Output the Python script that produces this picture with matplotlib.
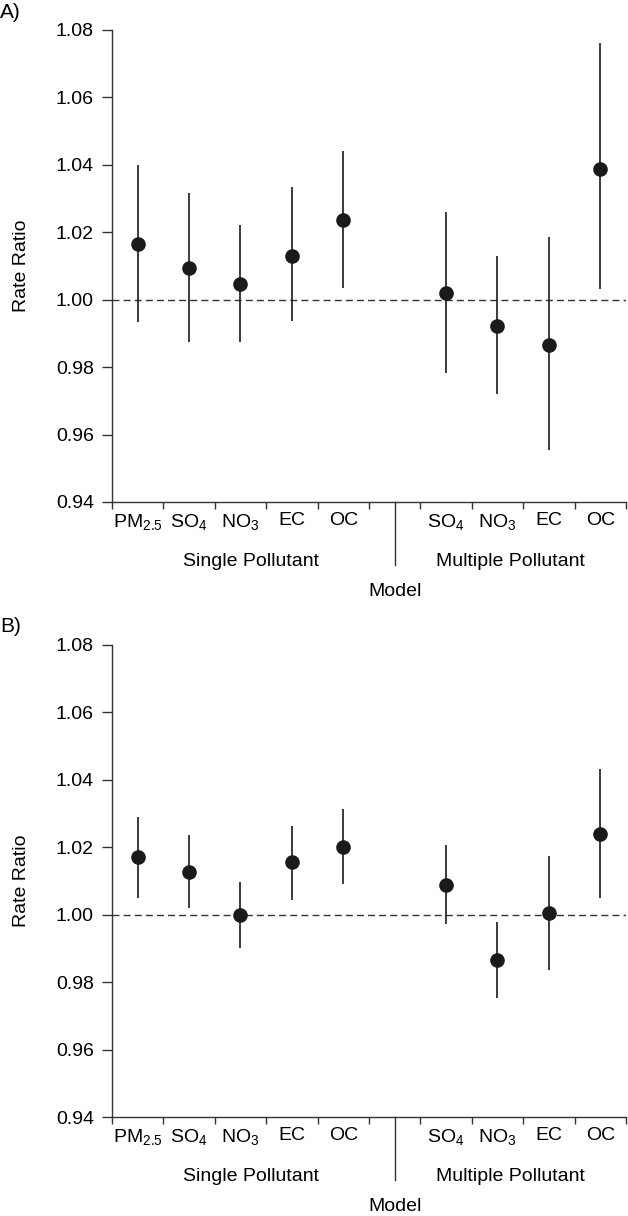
import matplotlib
matplotlib.use("Agg")
import matplotlib.pyplot as plt
import numpy as np

plt.rcParams.update({
    "font.family": ["Liberation Sans", "DejaVu Sans"],
    "font.size": 14,
    "mathtext.default": "regular",
})

# category labels (slot 5 is the gap between the two model groups)
pollutants = ["PM$_{2.5}$", "SO$_4$", "NO$_3$", "EC", "OC",
              "SO$_4$", "NO$_3$", "EC", "OC"]
slots = [0, 1, 2, 3, 4, 6, 7, 8, 9]
groups = ["Single Pollutant", "Multiple Pollutant"]

# panel A
a_est = [1.0164, 1.0093, 1.0047, 1.0130, 1.0237, 1.0020, 0.9923, 0.9866, 1.0388]
a_low = [0.9933, 0.9874, 0.9873, 0.9936, 1.0035, 0.9782, 0.9720, 0.9554, 1.0032]
a_up = [1.0400, 1.0316, 1.0222, 1.0334, 1.0442, 1.0261, 1.0128, 1.0187, 1.0760]

# panel B
b_est = [1.0170, 1.0128, 1.0000, 1.0155, 1.0200, 1.0089, 0.9865, 1.0005, 1.0238]
b_low = [1.0049, 1.0021, 0.9901, 1.0045, 1.0090, 0.9973, 0.9752, 0.9835, 1.0049]
b_up = [1.0291, 1.0237, 1.0097, 1.0263, 1.0313, 1.0206, 0.9977, 1.0175, 1.0432]

INK = "#1a1a1a"

fig = plt.figure(figsize=(6.28, 12.16), dpi=100)


def panel(rect, est, low, up, tag, tag_y):
    ax = fig.add_axes(rect)
    x = np.array(slots) + 0.5
    est = np.array(est)
    ax.axhline(1.0, color="#333333", lw=1.0, ls=(0, (5, 3)), zorder=1)
    ax.vlines(x, low, up, color=INK, lw=1.2, zorder=2)
    ax.plot(x, est, "o", color=INK, ms=9.5, zorder=3)

    ax.set_xlim(0, 10)
    ax.set_ylim(0.94, 1.08)
    ax.set_yticks(np.arange(0.94, 1.0801, 0.02))
    ax.set_yticklabels([f"{v:.2f}" for v in np.arange(0.94, 1.0801, 0.02)])
    ax.set_xticks(np.arange(0, 11))
    ax.set_xticklabels([])
    ax.set_xticks(x, minor=True)
    ax.set_xticklabels(pollutants, minor=True)
    ax.tick_params(axis="x", which="major", length=5, width=1, color="#333333")
    ax.tick_params(axis="x", which="minor", length=0, pad=7)
    ax.tick_params(axis="y", length=7, width=1, color="#333333", pad=6)
    for s in ["top", "right"]:
        ax.spines[s].set_visible(False)
    for s in ["left", "bottom"]:
        ax.spines[s].set_color("#333333")
        ax.spines[s].set_linewidth(1.0)

    ax.set_ylabel("Rate Ratio")
    ax.yaxis.set_label_coords(-0.16, 0.5)

    tr = ax.get_xaxis_transform()
    ax.text(2.7, -0.127, groups[0], transform=tr, ha="center", va="center")
    ax.text(7.75, -0.127, groups[1], transform=tr, ha="center", va="center")
    ax.text(5.5, -0.189, "Model", transform=tr, ha="center", va="center")
    ax.plot([5.5, 5.5], [0, -0.134], transform=tr, color="#333333",
            lw=1.0, clip_on=False)

    fig.text(0.0, tag_y, tag, ha="left", va="center", fontsize=15)
    return ax


panel([0.1783, 0.5872, 0.8185, 0.3882], a_est, a_low, a_up, "A)", 1 - 13 / 1216)
panel([0.1783, 0.0814, 0.8185, 0.3882], b_est, b_low, b_up, "B)", 1 - 626 / 1216)

fig.savefig("out.png", dpi=100)
